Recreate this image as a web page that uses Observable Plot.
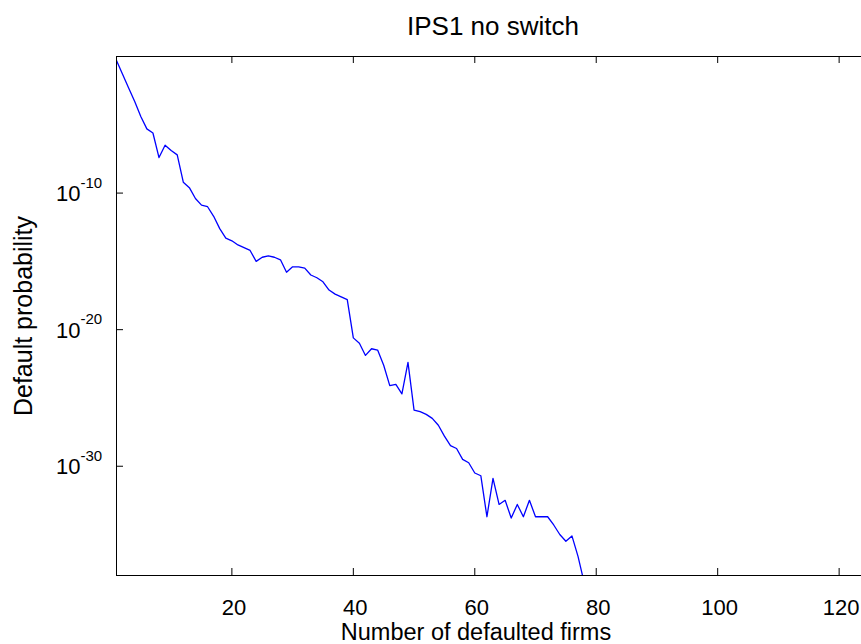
<!DOCTYPE html>
<html>
<head>
<meta charset="utf-8">
<script src="https://cdn.jsdelivr.net/npm/d3@7"></script>
<script src="https://cdn.jsdelivr.net/npm/@observablehq/plot@0.6"></script>
<style>
  html, body { margin: 0; padding: 0; background: #fff; overflow: hidden; }
  #chart { width: 861px; height: 644px; overflow: hidden; }
  #chart svg { max-width: none !important; width: 870px !important; height: 644px !important; }
</style>
</head>
<body>
<div id="chart"></div>
<script>
// Number of defaulted firms
const firms = [
  1, 2, 3, 4, 5, 6, 7, 8, 9, 10,
  11, 12, 13, 14, 15, 16, 17, 18, 19, 20,
  21, 22, 23, 24, 25, 26, 27, 28, 29, 30,
  31, 32, 33, 34, 35, 36, 37, 38, 39, 40,
  41, 42, 43, 44, 45, 46, 47, 48, 49, 50,
  51, 52, 53, 54, 55, 56, 57, 58, 59, 60,
  61, 62, 63, 64, 65, 66, 67, 68, 69, 70,
  71, 72, 73, 74, 75, 76, 77, 78
];
// Default probability
const defaultProb = [
  5e-1, 5e-2, 5e-3, 5e-4, 4e-5, 5e-6, 2.5e-6, 4e-8, 3.2e-7, 1.3e-7,
  6.3e-8, 6.3e-10, 2.5e-10, 4e-11, 1.3e-11, 1e-11, 2e-12, 2.5e-13, 5e-14, 3.2e-14,
  1.6e-14, 1e-14, 6.3e-15, 1e-15, 2e-15, 2.5e-15, 2e-15, 1.3e-15, 1.6e-16, 4e-16,
  4e-16, 3.2e-16, 1e-16, 6.3e-17, 3.2e-17, 7.9e-18, 4e-18, 2.5e-18, 1.6e-18, 2.5e-21,
  1e-21, 1.3e-22, 4e-22, 3.2e-22, 2.5e-23, 7.9e-25, 1e-24, 2e-25, 4e-23, 1.3e-26,
  1e-26, 6.3e-27, 3.2e-27, 1e-27, 1.6e-28, 3.2e-29, 2e-29, 3.2e-30, 1.8e-30, 3.2e-31,
  2e-31, 2e-34, 1.3e-31, 1.6e-33, 3.2e-33, 1.6e-34, 1.6e-33, 2e-34, 3.2e-33, 2e-34,
  2e-34, 2e-34, 5e-35, 1e-35, 3.2e-36, 7.9e-36, 2.5e-37, 3.2e-39
];
const xTicks = [20, 40, 60, 80, 100, 120];
const xTickLabels = ["20", "40", "60", "80", "100", "120"];
const yTicks = [1e-10, 1e-20, 1e-30];
const yTickBase = ["10", "10", "10"];
const yTickExp = ["-10", "-20", "-30"];
const title = "IPS1 no switch";
const xLabel = "Number of defaulted firms";
const yLabel = "Default probability";

const data = firms.map((n, i) => ({n, p: defaultProb[i]}));

const W = 870, H = 644;
const mL = 116, mR = 1, mT = 56, mB = 69;
const innerW = W - mL - mR, innerH = H - mT - mB;
const tickLen = 7;
const font = "'Liberation Sans', Arial, Helvetica, sans-serif";

const chart = Plot.plot({
  width: W,
  height: H,
  marginLeft: mL,
  marginRight: mR,
  marginTop: mT,
  marginBottom: mB,
  style: {fontFamily: font, background: "#fff", color: "#000"},
  x: {domain: [1, 125], axis: null},
  y: {type: "log", domain: [1e-38, 1], axis: null},
  marks: [
    Plot.line(data, {x: "n", y: "p", stroke: "#0000ff", strokeWidth: 1.3, clip: true}),
    Plot.frame({stroke: "#000", strokeWidth: 1}),
    // inward ticks
    Plot.ruleX(xTicks, {x: d => d, insetTop: innerH - tickLen, stroke: "#000"}),
    Plot.ruleX(xTicks, {x: d => d, insetBottom: innerH - tickLen, stroke: "#000"}),
    Plot.ruleY(yTicks, {y: d => d, insetRight: innerW - tickLen, stroke: "#000"}),
    Plot.ruleY(yTicks, {y: d => d, insetLeft: innerW - tickLen, stroke: "#000"}),
    // x tick labels
    Plot.text(xTicks, {x: d => d, text: xTickLabels, frameAnchor: "bottom", lineAnchor: "middle", dx: 2, dy: 32, fontSize: 22, fill: "#000"}),
    // y tick labels: base and superscript exponent
    Plot.text(yTicks, {y: d => d, text: yTickBase, frameAnchor: "left", textAnchor: "end", lineAnchor: "middle", dx: -36, dy: 1, fontSize: 22, fill: "#000"}),
    Plot.text(yTicks, {y: d => d, text: yTickExp, frameAnchor: "left", textAnchor: "start", lineAnchor: "middle", dx: -36, dy: -10, fontSize: 15, fill: "#000"}),
    // labels & title
    Plot.text([xLabel], {frameAnchor: "bottom", lineAnchor: "middle", textAnchor: "middle", dx: -17, dy: 57, fontSize: 23.5, fill: "#000"}),
    Plot.text([yLabel], {frameAnchor: "left", lineAnchor: "middle", textAnchor: "middle", dx: -93, rotate: -90, fontSize: 25, fill: "#000"}),
    Plot.text([title], {frameAnchor: "top", lineAnchor: "middle", textAnchor: "middle", dy: -30, fontSize: 26, fill: "#000"})
  ]
});
document.getElementById("chart").appendChild(chart);
</script>
</body>
</html>
